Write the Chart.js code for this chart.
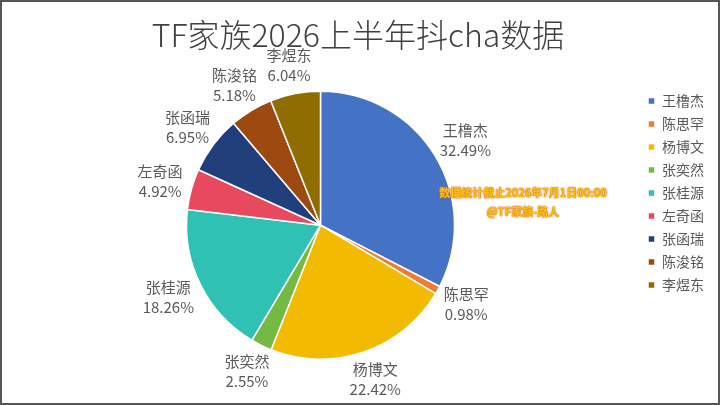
<!DOCTYPE html>
<html>
<head>
<meta charset="utf-8">
<script src="https://cdn.jsdelivr.net/npm/chart.js@4.4.1/dist/chart.umd.min.js"></script>
<style>
  html, body { margin: 0; padding: 0; background: #fff; }
  #wrap { position: relative; width: 720px; height: 405px; }
  #frame { position: absolute; inset: 0; border: 2px solid #555; pointer-events: none; box-sizing: border-box; }
  #note {
    position: absolute; left: 423px; top: 183px; width: 200px; text-align: center;
    font: bold 11px "Noto Sans CJK SC", sans-serif; line-height: 19px; color: #FFC21A;
    text-shadow: 0 0 1px #D07000, 0 0 1px #D07000, 0 0 2px #D07000;
  }
</style>
</head>
<body>
<div id="wrap">
  <canvas id="c" width="720" height="405"></canvas>
  <div id="note">数据统计截止2026年7月1日00:00<br>@TF家族-路人</div>
  <div id="frame"></div>
</div>
<script>
const TITLE = "TF家族2026上半年抖cha数据";
const NAMES = ["王橹杰", "陈思罕", "杨博文", "张奕然", "张桂源", "左奇函", "张函瑞", "陈浚铭", "李煜东"];
const SHARES = [32.49, 0.98, 22.42, 2.55, 18.26, 4.92, 6.95, 5.18, 6.04];
const COLORS = ["#4472C4", "#ED7D31", "#F2BA00", "#74B944", "#2FC1B3", "#E8495E", "#213F7B", "#9C4A10", "#8F6D00"];

const FONT = '"Noto Sans CJK SC", "Noto Sans", sans-serif';
const TEXT_GRAY = "#595959";

// Excel-style outside-end labels: name on one line, percentage below
const outsideLabels = {
  id: "outsideLabels",
  afterDatasetsDraw(chart) {
    const ctx = chart.ctx;
    const meta = chart.getDatasetMeta(0);
    ctx.save();
    ctx.font = "15px " + FONT;
    ctx.fillStyle = TEXT_GRAY;
    ctx.textAlign = "center";
    ctx.textBaseline = "middle";
    meta.data.forEach((arc, i) => {
      const mid = (arc.startAngle + arc.endAngle) / 2;
      const ux = Math.cos(mid), uy = Math.sin(mid);
      const lines = [NAMES[i], SHARES[i].toFixed(2) + "%"];
      const w = Math.max(...lines.map((t) => ctx.measureText(t).width));
      const h = 38;
      const r = arc.outerRadius + 10;
      const cx = arc.x + r * ux + (w / 2) * ux;
      const cy = arc.y + r * uy + (h / 2) * uy;
      ctx.fillText(lines[0], cx, cy - 10);
      ctx.fillText(lines[1], cx, cy + 10);
    });
    ctx.restore();
  },
};

new Chart(document.getElementById("c"), {
  type: "pie",
  data: {
    labels: NAMES,
    datasets: [
      {
        data: SHARES,
        backgroundColor: COLORS,
        borderColor: "#fff",
        borderWidth: 1.5,
      },
    ],
  },
  options: {
    responsive: false,
    animation: false,
    radius: 134,
    layout: { padding: { left: 2, right: 6, top: 0, bottom: 19 } },
    plugins: {
      title: {
        display: true,
        text: TITLE,
        color: "#404040",
        font: { family: FONT, size: 32, weight: "300", lineHeight: 1.2 },
        padding: { top: 16, bottom: 10 },
      },
      legend: {
        position: "right",
        labels: {
          boxWidth: 7,
          boxHeight: 7,
          padding: 9,
          color: TEXT_GRAY,
          font: { family: FONT, size: 14 },
        },
      },
      tooltip: { enabled: false },
    },
  },
  plugins: [outsideLabels],
});
</script>
</body>
</html>
